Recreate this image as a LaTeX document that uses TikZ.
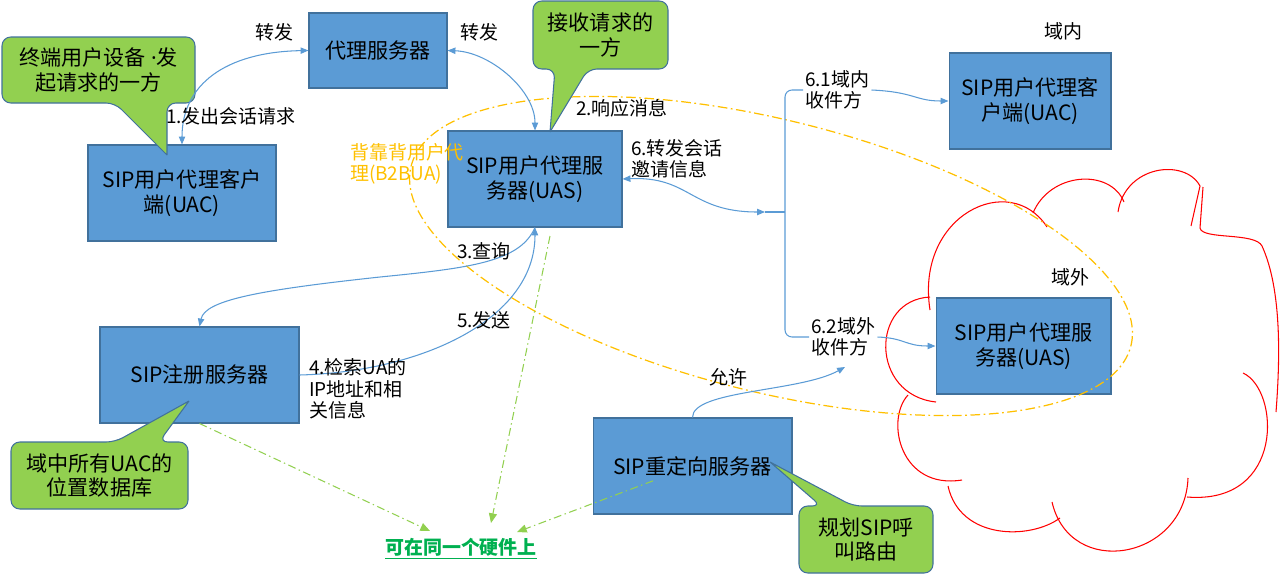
\documentclass[tikz,border=0pt]{standalone}
\usepackage{fontspec}
\setmainfont{Noto Sans CJK SC}
\newfontfamily\latinfont{Noto Sans}
\usepackage{tikz}
\usetikzlibrary{arrows.meta}
\definecolor{BoxBlue}{HTML}{5B9BD5}
\definecolor{EdgeBlue}{HTML}{41719C}
\definecolor{NoteGreen}{HTML}{92D050}
\definecolor{HwGreen}{HTML}{00B050}
\definecolor{BOrange}{HTML}{FFC000}
\definecolor{CloudRed}{HTML}{FF0000}

\begin{document}
\begin{tikzpicture}[x=0.02cm,y=-0.02cm,
  box/.style={draw=EdgeBlue,line width=0.6pt,fill=BoxBlue,minimum height=1.92cm,
    inner sep=0pt,align=center,font=\fontsize{12pt}{14.6pt}\selectfont},
  note/.style={draw=EdgeBlue,line width=0.6pt,fill=NoteGreen,rounded corners=5pt},
  notetext/.style={align=center,font=\fontsize{12pt}{13.8pt}\selectfont},
  lbl/.style={inner sep=1pt,align=left,font=\fontsize{10.8pt}{12.2pt}\selectfont},
  line/.style={line width=0.6pt,color=BoxBlue},
  a/.style={-{Triangle[length=4.5pt,width=3.6pt]},line width=0.6pt,color=BoxBlue},
  aa/.style={{Triangle[length=4.5pt,width=3.6pt]}-{Triangle[length=4.5pt,width=3.6pt]},
    line width=0.6pt,color=BoxBlue},
  g/.style={-{Triangle[length=5.5pt,width=4.6pt]},line width=0.6pt,color=NoteGreen,
    dash pattern=on 4.5pt off 2pt on 0.8pt off 2pt},
  cloudline/.style={draw=CloudRed,line width=0.6pt}
]
  \useasboundingbox (0,0) rectangle (1280,578);

  \draw[cloudline] (936,402) .. controls (870,395) and (870,300) .. (930,297);
  \draw[cloudline] (930,310) .. controls (915,215) and (1010,170) .. (1047,227);
  \draw[cloudline] (1033,213) .. controls (1050,172) and (1110,168) .. (1124,202);
  \draw[cloudline] (1118,212) .. controls (1125,165) and (1185,158) .. (1200,186) -- (1191,226);
  \draw[cloudline] (1203,187) -- (1200,228) .. controls (1202,240) and (1255,232) .. (1262,246)
    .. controls (1282,290) and (1280,360) .. (1276,412);
  \draw[cloudline] (1243,373) .. controls (1280,390) and (1285,505) .. (1187,497);
  \draw[cloudline] (1188,478) .. controls (1185,560) and (1070,580) .. (1052,502);
  \draw[cloudline] (1060,518) .. controls (1030,540) and (960,540) .. (948,486);
  \draw[cloudline] (962,480) .. controls (900,490) and (885,420) .. (908,395);

  \node[box,minimum width=2.76cm,minimum height=1.5cm] (proxy) at (378,50.5) {代理服务器};
  \node[box,minimum width=3.76cm] (uacL) at (182,193) {SIP用户代理客户\\端(UAC)};
  \node[box,minimum width=3.48cm] (uas) at (535,179) {SIP用户代理服\\务器(UAS)};
  \node[box,minimum width=3.24cm] (uacR) at (1030,101) {SIP用户代理客\\户端(UAC)};
  \node[box,minimum width=3.5cm] (uasR) at (1023.5,346) {SIP用户代理服\\务器(UAS)};
  \node[box,minimum width=3.98cm] (reg) at (199.5,375) {SIP注册服务器};
  \node[box,minimum width=3.98cm] (redir) at (692.5,466) {SIP重定向服务器};

  \draw[BOrange,line width=0.7pt,dash pattern=on 5.5pt off 2pt on 1pt off 2pt,
    rotate around={-14:(771,256)}] (771,256) ellipse [x radius=7.42cm,y radius=2.72cm];

  \draw[note] (167,155) -- (115,103) -- (2,103) -- (2,37) -- (195,37) -- (195,103) -- (167,103) -- (167,155);
  \node[notetext] (n1) at (98.5,70) {终端用户设备{\latinfont{} ·}发\\起请求的一方};
  \draw[note] (550,132) -- (588,69) -- (668,69) -- (668,1) -- (533,1) -- (533,69) -- (555,69) -- (550,132);
  \node[notetext] (n2) at (600.5,35) {接收请求的\\一方};
  \draw[note] (189,401) -- (159,442) -- (188,442) -- (188,509) -- (11,509) -- (11,442) -- (115,442) -- (189,401);
  \node[notetext] (n3) at (99.5,475.5) {域中所有UAC的\\位置数据库};
  \draw[note] (770,462) -- (853,506) -- (933,506) -- (933,573) -- (799,573) -- (799,506) -- (821,506) -- (770,462);
  \node[notetext] (n4) at (866,539.5) {规划SIP呼\\叫路由};

  \node[lbl,anchor=west] (in) at (803,90) {6.1域内\\收件方};
  \node[lbl,anchor=west] (out) at (809,337) {6.2域外\\收件方};
  \coordinate (fork) at (765,212);
  \coordinate (split) at (785,212);
  \coordinate (allow) at (845,367);
  \coordinate (uasfoot) at (550,236);
  \coordinate (hw1) at (430,531);
  \coordinate (hw2) at (491,523);
  \coordinate (hw3) at (517,532);

  \draw[aa] (proxy.west) .. controls (225,52) and (182,85) .. (uacL.north);
  \draw[aa] (proxy.east) .. controls (490,52) and (535,90) .. (uas.north);
  \draw[a] (uas.south) .. controls (520,262) and (470,268) .. (380,277)
    .. controls (260,290) and (205,300) .. (reg.north);
  \draw[a] (reg.east) .. controls (420,372) and (535,320) .. (uas.south);
  \draw[aa] (uas.east) .. controls (690,176) and (690,212) .. (fork);
  \draw[line] (fork) -- (split);
  \draw[line,rounded corners=4pt] (in.west) -| (split) |- (out.west);
  \draw[a] (in.east) .. controls (915,92) and (915,101) .. (uacR.west);
  \draw[a] (out.east) .. controls (905,338) and (905,346) .. (uasR.west);
  \draw[a] (redir.north) .. controls (692,390) and (800,392) .. (allow);

  \draw[g] (reg.south) -- (hw1);
  \draw[g] (uasfoot) -- (hw2);
  \draw[g,shorten <=24pt] (redir.center) -- (hw3);

  \node[lbl] (fwdL) at (274,32) {转发};
  \node[lbl] (fwdR) at (479,32) {转发};
  \node[lbl] (s1) at (231,116) {1.发出会话请求};
  \node[lbl] (s2) at (622,108) {2.响应消息};
  \node[lbl,anchor=west] (s6) at (629,159) {6.转发会话\\邀请信息};
  \node[lbl] (s3) at (484,251) {3.查询};
  \node[lbl] (s5) at (484,320) {5.发送};
  \node[lbl,anchor=west] (s4) at (307,389) {4.检索UA的\\IP地址和相\\关信息};
  \node[lbl] (permit) at (728,377) {允许};
  \node[lbl] (inside) at (1063,31) {域内};
  \node[lbl] (outside) at (1070,277) {域外};
  \node[lbl,anchor=west,text=BOrange] (b2bua) at (348,164) {背靠背用户代\\理(B2BUA)};
  \node[font=\fontsize{10.8pt}{12.2pt}\selectfont\bfseries,text=HwGreen] (hw) at (461,549)
    {\underline{可在同一个硬件上}};
\end{tikzpicture}
\end{document}
